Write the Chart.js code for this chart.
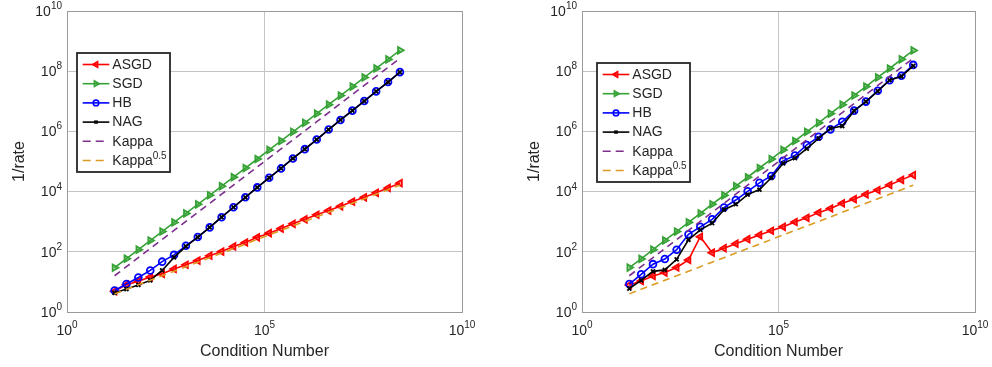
<!DOCTYPE html>
<html>
<head>
<meta charset="utf-8">
<script src="https://cdn.jsdelivr.net/npm/chart.js@4.4.0/dist/chart.umd.min.js"></script>
<style>
html, body { margin: 0; padding: 0; background: #fff; }
#wrap { position: relative; width: 992px; height: 367px; }
canvas { position: absolute; top: 0; }
</style>
</head>
<body>
<div id="wrap">
  <canvas id="leftChart" width="496" height="367" style="left:0"></canvas>
  <canvas id="rightChart" width="496" height="367" style="left:496px"></canvas>
</div>
<script>
// condition numbers 2^4 .. 2^28 (x axis)
const conditionNumbers = [16, 32, 64, 128, 256, 512, 1024, 2048, 4096, 8192, 16384, 32768, 65536,
    131072, 262144, 524288, 1048576, 2097152, 4194304, 8388608, 16777216, 33554432, 67108864,
    134217728, 268435456];

// reference lines
const kappaLine = [16, 32, 64, 128, 256, 512, 1024, 2048, 4096, 8192, 16384, 32768, 65536,
    131072, 262144, 524288, 1048576, 2097152, 4194304, 8388608, 16777216, 33554432, 67108864,
    134217728, 268435456];
const kappaSqrt = [4, 5.66, 8, 11.3, 16, 22.6, 32, 45.3, 64, 90.5, 128, 181, 256, 362, 512, 724,
    1024, 1448, 2048, 2896, 4096, 5793, 8192, 11585, 16384];

// left panel
const asgdLeft = [4.9, 8.1, 10.5, 14.5, 18.6, 26.9, 37.2, 51.3, 74.1, 102, 151, 204, 302, 417, 589,
    851, 1200, 1700, 2340, 3240, 4680, 6460, 9120, 13200, 19100];
const sgdLeft = [29.5, 59, 118, 236, 472, 944, 1890, 3780, 7550, 15100, 30200, 60400, 121000,
    242000, 483000, 967000, 1.93e6, 3.87e6, 7.73e6, 1.55e7, 3.09e7, 6.19e7, 1.24e8, 2.47e8, 4.95e8];
const hbLeft = [5.2, 8.5, 14, 24, 47, 79, 158, 309, 646, 1410, 3020, 6460, 13800, 28800, 58900,
    126000, 257000, 537000, 1.15e6, 2.4e6, 4.9e6, 1.02e7, 2.14e7, 4.37e7, 9.33e7];
const nagLeft = [4.3, 5.8, 7.9, 11.2, 24, 65, 151, 309, 646, 1410, 3020, 6460, 13800, 28800, 58900,
    126000, 257000, 537000, 1.15e6, 2.4e6, 4.9e6, 1.02e7, 2.14e7, 4.37e7, 9.33e7];

// right panel
const asgdRight = [7.9, 10.7, 15.8, 20.4, 30.2, 53.7, 316, 93.3, 132, 186, 263, 363, 501, 676, 977,
    1350, 2000, 2750, 4070, 5620, 8130, 11200, 16600, 24500, 35500];
const sgdRight = [30, 58, 118, 238, 470, 950, 1880, 3800, 7500, 15200, 30000, 60800, 120000,
    243000, 480000, 970000, 1.92e6, 3.9e6, 7.7e6, 1.56e7, 3.08e7, 6.2e7, 1.23e8, 2.48e8, 4.9e8];
const hbRight = [8.5, 17.8, 38.9, 57.5, 117, 380, 676, 1200, 2950, 5250, 10200, 19500, 33100,
    105000, 158000, 355000, 661000, 1.17e6, 2.09e6, 4.9e6, 9.77e6, 2.24e7, 5.01e7, 7.08e7, 1.62e8];
const nagRight = [6.0, 11.2, 22.4, 25.1, 56.2, 251, 537, 891, 2510, 3800, 7940, 11700, 28800, 87100,
    129000, 269000, 589000, 1.26e6, 1.51e6, 4.79e6, 9.77e6, 2.19e7, 5.01e7, 6.76e7, 1.51e8];

const xTickExps = [0, 5, 10];
const yTickExps = [0, 2, 4, 6, 8, 10];
const seriesNames = ['ASGD', 'SGD', 'HB', 'NAG', 'Kappa', 'Kappa'];

const FONT = '"Liberation Sans", Arial, Helvetica, sans-serif';
const TEXT = '#262626';
const GRID = '#c4c4c4';
const BOX = '#9a9a9a';

const styles = [
    { color: '#ff0000', fill: 'rgba(255,0,0,0.35)', pointStyle: 'triangle', rotation: 270, radius: 3.8 },
    { color: '#36a236', fill: 'rgba(54,162,54,0.35)', pointStyle: 'triangle', rotation: 90, radius: 3.8 },
    { color: '#0000ff', fill: 'rgba(255,255,255,0)', pointStyle: 'circle', rotation: 0, radius: 3.4 },
    { color: '#000000', fill: 'rgba(255,255,255,0)', pointStyle: 'crossRot', rotation: 0, radius: 2.8 },
    { color: '#7e2f8e', dash: [7, 5] },
    { color: '#dd9a20', dash: [7, 5] }
];

function makeDatasets(series) {
    return series.map((values, i) => {
        const s = styles[i];
        return {
            label: seriesNames[i],
            data: conditionNumbers.map((x, k) => ({ x: x, y: values[k] })),
            borderColor: s.color,
            borderWidth: 1.6,
            borderDash: s.dash || [],
            pointStyle: s.pointStyle || false,
            pointRadius: s.dash ? 0 : s.radius,
            pointRotation: s.rotation || 0,
            pointBorderWidth: 1.8,
            pointBorderColor: s.color,
            pointBackgroundColor: s.fill || 'rgba(255,255,255,0)',
            tension: 0,
            order: 6 - i
        };
    });
}

function drawPower(ctx, exp, x, y, align) {
    ctx.font = '14px ' + FONT;
    const wb = ctx.measureText('10').width;
    ctx.font = '10px ' + FONT;
    const we = ctx.measureText(String(exp)).width;
    let left = align === 'right' ? x - wb - we : x - (wb + we) / 2;
    ctx.textAlign = 'left';
    ctx.textBaseline = 'middle';
    ctx.font = '14px ' + FONT;
    ctx.fillText('10', left, y);
    ctx.textBaseline = 'alphabetic';
    ctx.font = '10px ' + FONT;
    ctx.fillText(String(exp), left + wb, y - 3);
}

const matlabFrame = {
    id: 'matlabFrame',
    afterDraw(chart, args, opts) {
        const { ctx, chartArea: a, scales } = chart;
        ctx.save();
        // axes box
        ctx.strokeStyle = BOX;
        ctx.lineWidth = 1;
        ctx.strokeRect(a.left + 0.5, a.top + 0.5, a.right - a.left, a.bottom - a.top);

        // tick labels with exponents
        ctx.fillStyle = TEXT;
        yTickExps.forEach(e => {
            const py = scales.y.getPixelForValue(Math.pow(10, e));
            drawPower(ctx, e, a.left - 5, py + 1, 'right');
        });
        xTickExps.forEach(e => {
            const px = scales.x.getPixelForValue(Math.pow(10, e));
            drawPower(ctx, e, px, a.bottom + 19, 'center');
        });

        // axis titles
        ctx.font = '16px ' + FONT;
        ctx.textAlign = 'center';
        ctx.textBaseline = 'middle';
        ctx.fillText('Condition Number', (a.left + a.right) / 2, 352);
        ctx.save();
        ctx.translate(a.left - 47, (a.top + a.bottom) / 2);
        ctx.rotate(-Math.PI / 2);
        ctx.fillText('1/rate', 0, 0);
        ctx.restore();

        // legend
        const b = opts.box;
        ctx.fillStyle = '#fff';
        ctx.fillRect(b.x, b.y, b.w, b.h);
        ctx.strokeStyle = TEXT;
        ctx.lineWidth = 1.8;
        ctx.strokeRect(b.x, b.y, b.w, b.h);
        seriesNames.forEach((name, i) => {
            const s = styles[i];
            const ry = b.y + 11.5 + i * 19.2;
            const x0 = b.x + 5.7;
            ctx.strokeStyle = s.color;
            ctx.lineWidth = 1.6;
            ctx.beginPath();
            if (s.dash) {
                ctx.setLineDash([8, 5]);
                ctx.moveTo(x0, ry);
                ctx.lineTo(x0 + 21, ry);
            } else {
                ctx.setLineDash([]);
                ctx.moveTo(x0, ry);
                ctx.lineTo(x0 + 26.6, ry);
            }
            ctx.stroke();
            ctx.setLineDash([]);
            if (!s.dash) {
                ctx.fillStyle = s.fill;
                Chart.helpers.drawPoint(ctx, {
                    pointStyle: s.pointStyle, rotation: s.rotation, radius: s.radius - 0.6, borderWidth: 1.6
                }, x0 + 13.3, ry);
            }
            ctx.fillStyle = TEXT;
            ctx.font = '14px ' + FONT;
            ctx.textAlign = 'left';
            ctx.textBaseline = 'middle';
            ctx.fillText(name, b.x + 35.3, ry + 0.5);
            if (i === 5) {
                const w = ctx.measureText(name).width;
                ctx.font = '10px ' + FONT;
                ctx.textBaseline = 'alphabetic';
                ctx.fillText('0.5', b.x + 35.3 + w, ry - 2);
            }
        });
        ctx.restore();
    }
};

function buildChart(id, series, padding, box) {
    return new Chart(document.getElementById(id), {
        type: 'line',
        data: { datasets: makeDatasets(series) },
        options: {
            responsive: false,
            animation: false,
            layout: { padding: padding },
            plugins: {
                legend: { display: false },
                tooltip: { enabled: false },
                matlabFrame: { box: box }
            },
            scales: {
                x: {
                    type: 'logarithmic',
                    min: 1,
                    max: 1e10,
                    afterBuildTicks: s => { s.ticks = xTickExps.map(e => ({ value: Math.pow(10, e) })); },
                    afterFit: s => { s.height = 0; },
                    ticks: { display: false },
                    grid: { color: GRID, drawTicks: false },
                    border: { display: false }
                },
                y: {
                    type: 'logarithmic',
                    min: 1,
                    max: 1e10,
                    afterBuildTicks: s => { s.ticks = yTickExps.map(e => ({ value: Math.pow(10, e) })); },
                    afterFit: s => { s.width = 0; },
                    ticks: { display: false },
                    grid: { color: GRID, drawTicks: false },
                    border: { display: false }
                }
            }
        },
        plugins: [matlabFrame]
    });
}

buildChart('leftChart',
    [asgdLeft, sgdLeft, hbLeft, nagLeft, kappaLine, kappaSqrt],
    { left: 67, right: 34, top: 11, bottom: 55 },
    { x: 77, y: 53, w: 93, h: 119 });

buildChart('rightChart',
    [asgdRight, sgdRight, hbRight, nagRight, kappaLine, kappaSqrt],
    { left: 86, right: 17, top: 11, bottom: 55 },
    { x: 101, y: 63, w: 93, h: 119 });
</script>
</body>
</html>
